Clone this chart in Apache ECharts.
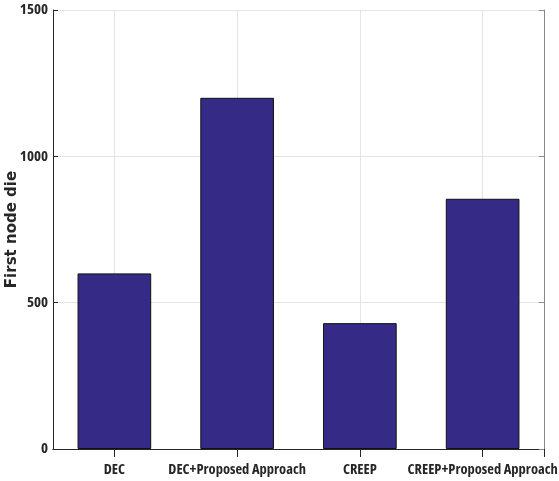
<!DOCTYPE html>
<html>
<head>
<meta charset="utf-8">
<script src="https://cdn.jsdelivr.net/npm/echarts@6/dist/echarts.min.js"></script>
<style>
  html, body { margin: 0; padding: 0; background: #fff; }
  #chart { width: 559px; height: 481px; }
</style>
</head>
<body>
<div id="chart"></div>
<script>
// Lifetime (round of first node death) per protocol
const categories = ['DEC', 'DEC+Proposed Approach', 'CREEP', 'CREEP+Proposed Approach'];
const firstNodeDie = [600, 1200, 430, 855];
const yTicks = [0, 500, 1000, 1500];

// The top axis splits every category in two halves, so its odd boundaries
// sit on the category centres: vertical grid lines and top ticks go there.
const halfSlots = categories.flatMap(c => [c + ':left', c + ':right']);
const atCentre = i => i % 2 === 1;

// Tick labels use a condensed bold face
const labelFont = '"Open Sans", Roboto, "Liberation Sans", sans-serif';
const labelWeight = 'bold condensed';
const axisColor = '#262626';
const gridColor = '#e4e4e4';

const chart = echarts.init(document.getElementById('chart'), null, { renderer: 'canvas' });

chart.setOption({
  animation: false,
  grid: { left: 53, top: 10, right: 15, bottom: 32, containLabel: false, outerBoundsMode: 'none' },
  xAxis: [
    {
      type: 'category',
      data: categories,
      boundaryGap: true,
      axisLine: { lineStyle: { color: axisColor, width: 1 } },
      axisTick: { show: true, inside: true, alignWithLabel: true, length: 7, lineStyle: { color: axisColor } },
      axisLabel: { color: axisColor, fontFamily: labelFont, fontWeight: labelWeight, fontSize: 14.5, margin: 13, interval: 0 },
      splitLine: { show: false }
    },
    {
      type: 'category',
      data: halfSlots,
      position: 'top',
      boundaryGap: true,
      axisLine: { show: true, lineStyle: { color: axisColor, width: 1 } },
      axisTick: { show: true, inside: true, interval: atCentre, length: 8, lineStyle: { color: axisColor } },
      axisLabel: { show: false },
      splitLine: { show: true, interval: atCentre, lineStyle: { color: gridColor, width: 1 } }
    }
  ],
  yAxis: [
    {
      type: 'value',
      min: 0,
      max: 1500,
      interval: 500,
      name: 'First node die',
      nameLocation: 'middle',
      nameGap: 33,
      nameMoveOverlap: false,
      nameTextStyle: { color: axisColor, fontFamily: '"DejaVu Sans", sans-serif', fontWeight: 'bold', fontSize: 15 },
      axisLine: { show: true, lineStyle: { color: axisColor, width: 1 } },
      axisTick: { show: true, inside: true, length: 5, lineStyle: { color: axisColor } },
      axisLabel: {
        color: axisColor, fontFamily: labelFont, fontWeight: labelWeight, fontSize: 15, margin: 5,
        formatter: v => (yTicks.includes(v) ? String(v) : '')
      },
      splitLine: { show: true, lineStyle: { color: gridColor, width: 1 } }
    },
    {
      type: 'value',
      min: 0,
      max: 1500,
      interval: 500,
      position: 'right',
      axisLine: { show: true, lineStyle: { color: '#8a8a8a', width: 1 } },
      axisTick: { show: true, inside: true, length: 5, lineStyle: { color: '#8a8a8a' } },
      axisLabel: { show: false },
      splitLine: { show: false }
    }
  ],
  series: [
    {
      type: 'bar',
      data: firstNodeDie,
      barWidth: '60%',
      itemStyle: { color: '#352a86', borderColor: '#111111', borderWidth: 1 }
    }
  ]
});
</script>
</body>
</html>
